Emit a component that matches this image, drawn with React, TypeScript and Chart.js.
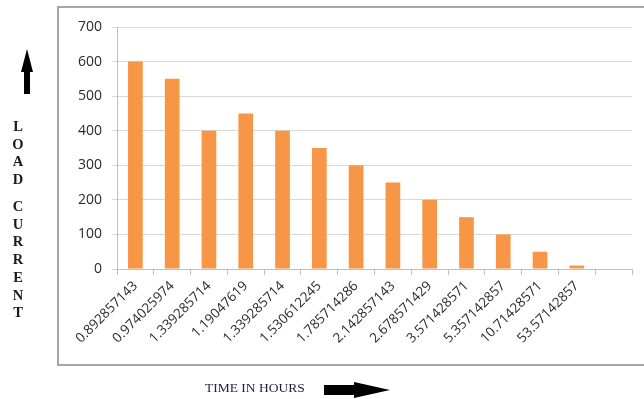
import React, { useEffect, useRef } from "react";
import { Chart, registerables } from "chart.js";

Chart.register(...registerables);

// Time in hours for each sample (the last slot is an empty category)
const categories = [
  "0.892857143",
  "0.974025974",
  "1.339285714",
  "1.19047619",
  "1.339285714",
  "1.530612245",
  "1.785714286",
  "2.142857143",
  "2.678571429",
  "3.571428571",
  "5.357142857",
  "10.71428571",
  "53.57142857",
  "",
];

// Load current for each time value
const loadCurrent = [600, 550, 400, 450, 400, 350, 300, 250, 200, 150, 100, 50, 10, null];

// Value axis range
const yMin = 0;
const yMax = 700;
const yStep = 100;

const yTitleTop = ["L", "O", "A", "D"];
const yTitleBottom = ["C", "U", "R", "R", "E", "N", "T"];
const xTitle = "TIME IN HOURS";

const W = 644;
const H = 399;

export default function App() {
  const canvasRef = useRef<HTMLCanvasElement | null>(null);

  useEffect(() => {
    const canvas = canvasRef.current;
    if (!canvas) return;
    const tickFont = { family: "'Open Sans', 'Liberation Sans', sans-serif", size: 13.5 };
    const chart = new Chart(canvas, {
      type: "bar",
      data: {
        labels: categories,
        datasets: [
          {
            data: loadCurrent,
            backgroundColor: "#f79646",
            borderWidth: 0,
            barPercentage: 0.4,
            categoryPercentage: 1,
          },
        ],
      },
      options: {
        responsive: false,
        animation: false,
        devicePixelRatio: 1,
        layout: { padding: { left: 58, right: 12, top: 27, bottom: 32 } },
        plugins: { legend: { display: false }, tooltip: { enabled: false } },
        scales: {
          x: {
            grid: {
              display: true,
              drawOnChartArea: false,
              drawTicks: true,
              tickLength: 6,
              color: "#bfbfbf",
              offset: true,
            },
            border: { color: "#bfbfbf", width: 1 },
            ticks: {
              autoSkip: false,
              maxRotation: 45,
              minRotation: 45,
              color: "#2b2b2b",
              font: tickFont,
              padding: 3,
            },
            afterFit: (s: any) => {
              s.height = 98;
            },
          },
          y: {
            min: yMin,
            max: yMax,
            ticks: { stepSize: yStep, color: "#2b2b2b", font: { ...tickFont, size: 14 }, padding: 10 },
            grid: { color: "#d9d9d9", tickLength: 5, drawTicks: true, lineWidth: 1 },
            border: { color: "#bfbfbf", width: 1 },
            afterFit: (s: any) => {
              s.width = 59;
            },
          },
        },
      },
    });
    return () => chart.destroy();
  }, []);

  const serif = "'Liberation Serif', 'Times New Roman', serif";
  const letterStyle = (top: number): React.CSSProperties => ({
    position: "absolute",
    left: 8,
    width: 20,
    top,
    textAlign: "center",
    fontFamily: serif,
    fontWeight: "bold",
    fontSize: 14.5,
    lineHeight: "17.7px",
    color: "#1a1a1a",
  });

  return (
    <div style={{ position: "fixed", left: 0, top: 0, width: W, height: H, background: "#fff", overflow: "hidden" }}>
      <div
        style={{
          position: "absolute",
          left: 57,
          top: 6,
          width: W,
          height: 360,
          borderTop: "2px solid #a6a6a6",
          borderLeft: "2px solid #a6a6a6",
          borderBottom: "2px solid #a6a6a6",
          boxSizing: "border-box",
        }}
      />
      <canvas ref={canvasRef} width={W} height={H} style={{ position: "absolute", left: 0, top: 0, width: W, height: H }} />
      <div style={letterStyle(118)}>
        {yTitleTop.map((c, i) => (
          <div key={i}>{c}</div>
        ))}
      </div>
      <div style={letterStyle(198)}>
        {yTitleBottom.map((c, i) => (
          <div key={i}>{c}</div>
        ))}
      </div>
      <div
        style={{
          position: "absolute",
          left: 205,
          top: 380,
          fontFamily: serif,
          fontSize: 13.5,
          lineHeight: "16px",
          color: "#1f2040",
          whiteSpace: "nowrap",
        }}
      >
        {xTitle}
      </div>
      <svg width={W} height={H} style={{ position: "absolute", left: 0, top: 0, pointerEvents: "none" }}>
        {/* upward arrow beside the value axis */}
        <polygon points="27,49 33,72 30,72 30,94 24,94 24,72 21,72" fill="#000" />
        {/* rightward arrow after the category axis title */}
        <polygon points="324,385 354,385 354,382 390,390 354,398 354,395 324,395" fill="#000" />
      </svg>
    </div>
  );
}
